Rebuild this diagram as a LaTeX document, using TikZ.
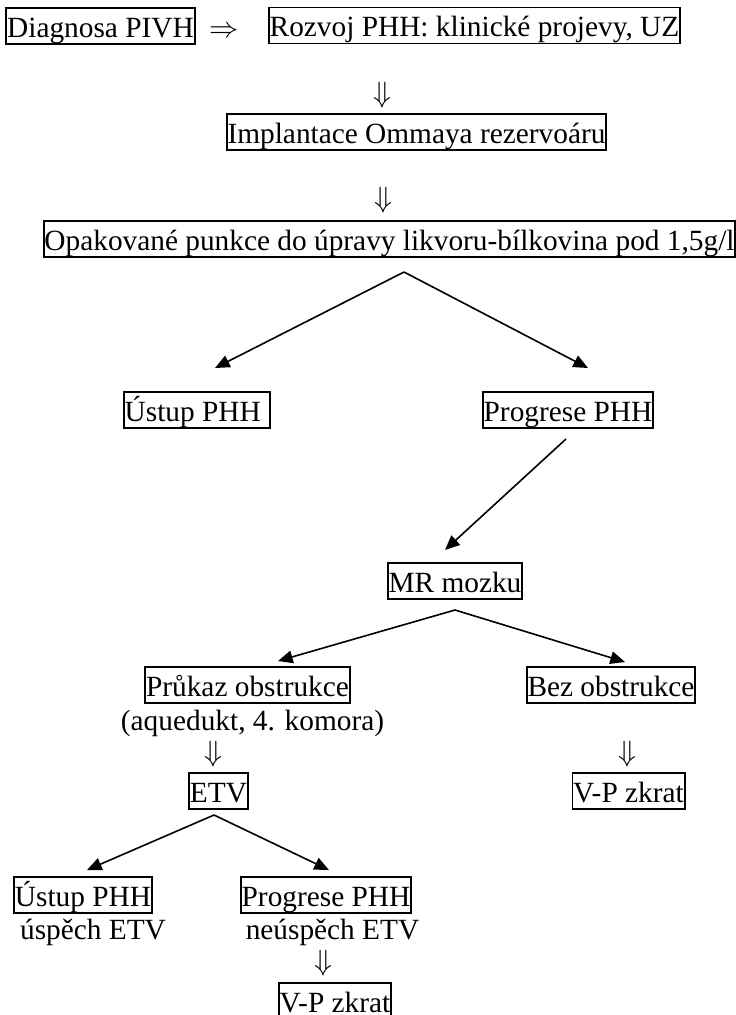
\RequirePackage{fix-cm}
\documentclass[tikz,border=0pt]{standalone}
\usepackage{fontspec}
\setmainfont{Liberation Serif}
\usetikzlibrary{arrows.meta}
\begin{document}
\begin{tikzpicture}[x=0.75pt,y=-0.75pt,
  box/.style={draw, line width=1.4pt, inner xsep=0.6pt, inner ysep=0pt,
    text height=21.75pt, text depth=5.25pt,
    font=\fontsize{22}{26}\selectfont, anchor=base},
  txt/.style={inner sep=0pt, font=\fontsize{22}{26}\selectfont, anchor=base},
  sym/.style={inner sep=0pt, font=\fontsize{22}{26}\selectfont, anchor=base},
  conn/.style={line width=1.2pt, -{Triangle[length=11pt,width=9.5pt]}}]
\clip (0,0) rectangle (736,1015);
\fill[white] (0,0) rectangle (736,1015);

% top row
\node[box] (diag) at (100.5,37) {Diagnosa PIVH};
\node[sym] (r1) at (224,37) {$\Rightarrow$};
\node[box] (rozvoj) at (474.5,36.5) {Rozvoj PHH: klinické projevy, UZ};
\node[sym] (d1) at (382,102) {$\Downarrow$};
\node[box] (impl) at (416.5,143) {Implantace Ommaya rezervoáru};
\node[sym] (d2) at (383,207) {$\Downarrow$};
\node[box] (opak) at (389.5,250) {Opakované punkce do úpravy likvoru-bílkovina pod 1,5g/l};

% first split
\node[box, anchor=base west] (ustup1) at (123,421) {Ústup PHH\hspace*{6pt}};
\node[box] (prog1) at (568,421) {Progrese PHH};
\node[box] (mr) at (455,592) {MR mozku};

% second split
\node[box] (prukaz) at (247.5,696) {Průkaz obstrukce};
\node[box] (bez) at (611,696) {Bez obstrukce};
\node[txt] (aqu) at (252.5,730) {(aquedukt, 4. komora)};
\node[sym] (d3) at (213.5,761) {$\Downarrow$};
\node[sym] (d4) at (627,761) {$\Downarrow$};
\node[box] (etv) at (218.5,802) {ETV};
\node[box] (vp1) at (628.5,802) {V-P zkrat};

% third split
\node[box] (ustup2) at (83,906) {Ústup PHH};
\node[box] (prog2) at (326,906) {Progrese PHH};
\node[txt] (usp) at (93,939) {úspěch ETV};
\node[txt] (neusp) at (332.5,939) {neúspěch ETV};
\node[sym] (d5) at (323,970) {$\Downarrow$};
\node[box] (vp2) at (335,1012) {V-P zkrat};

% connectors
\coordinate (f1) at (404,272);
\coordinate (t1l) at (215,368);
\coordinate (t1r) at (588,368);
\draw[conn] (f1) -- (t1l);
\draw[conn] (f1) -- (t1r);

\coordinate (s2) at (566,439);
\coordinate (t2) at (445,550);
\draw[conn] (s2) -- (t2);

\coordinate (f3) at (455,610);
\coordinate (t3l) at (278,661);
\coordinate (t3r) at (625,662);
\draw[conn] (f3) -- (t3l);
\draw[conn] (f3) -- (t3r);

\coordinate (f4) at (214,815);
\coordinate (t4l) at (87,870);
\coordinate (t4r) at (329,870);
\draw[conn] (f4) -- (t4l);
\draw[conn] (f4) -- (t4r);
\end{tikzpicture}
\end{document}
